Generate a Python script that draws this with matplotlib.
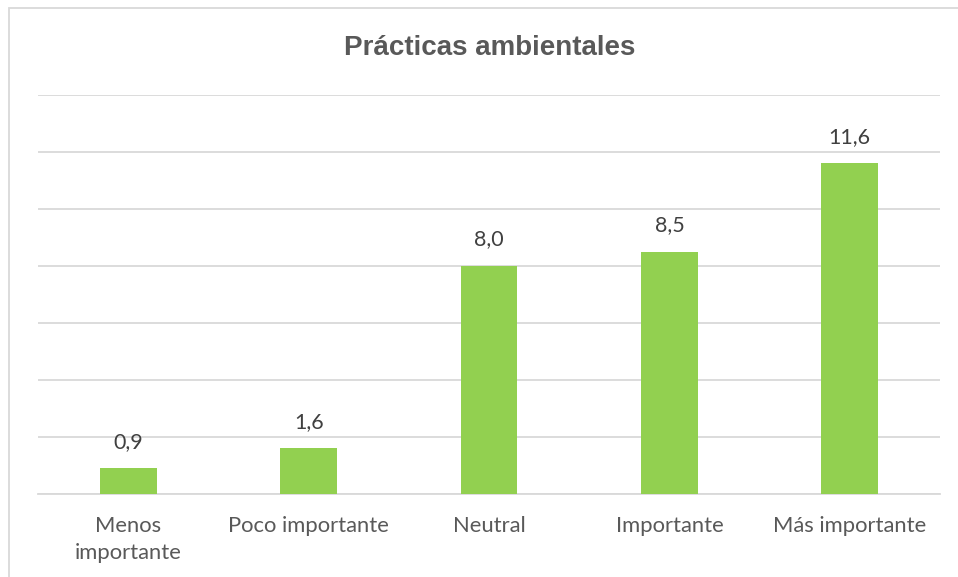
import numpy as np
import matplotlib.pyplot as plt
from matplotlib.patches import Rectangle

# data
categories = ["Menos\nimportante", "Poco importante", "Neutral", "Importante", "Más importante"]
values = [0.9, 1.6, 8.0, 8.5, 11.6]
value_labels = ["0,9", "1,6", "8,0", "8,5", "11,6"]

gray = "#595959"
green = "#92D050"

fig = plt.figure(figsize=(9.58, 5.77), dpi=100)
ax = fig.add_axes([0.0397, 0.1438, 0.9415, 0.6916])

x = np.arange(len(categories))
bars = ax.bar(x, values, width=0.315, color=green, zorder=3)

# value labels above bars
for xi, v, lab in zip(x, values, value_labels):
    ax.annotate(lab, (xi, v), xytext=(0, 12), textcoords="offset points",
                ha="center", va="bottom", fontsize=15.5, color="#404040", family="Lato")

ax.set_xlim(-0.5, len(categories) - 0.5)
ax.set_ylim(0, 14)
ax.set_yticks(np.arange(0, 15, 2))
ax.yaxis.grid(True, color="#d9d9d9", linewidth=1.3, zorder=0)
ax.tick_params(axis="y", left=False, labelleft=False)
ax.tick_params(axis="x", bottom=False, pad=12)
ax.set_xticks(x)
ax.set_xticklabels(categories, fontsize=15.8, color=gray, family="Lato", linespacing=1.45)
for s in ["top", "right", "left"]:
    ax.spines[s].set_visible(False)
ax.spines["bottom"].set_color("#d9d9d9")
ax.spines["bottom"].set_linewidth(1.3)

fig.text(0.511, 0.916, "Prácticas ambientales", ha="center", va="center",
         fontsize=20, fontweight="bold", color=gray, family="Liberation Sans")

# outer chart border
fig.patches.append(Rectangle((9 / 958, -0.01), 1.0, 1 - 8 / 577 + 0.01, transform=fig.transFigure,
                             fill=False, edgecolor="#d9d9d9", linewidth=1.3))

fig.savefig("out.png", dpi=100)
